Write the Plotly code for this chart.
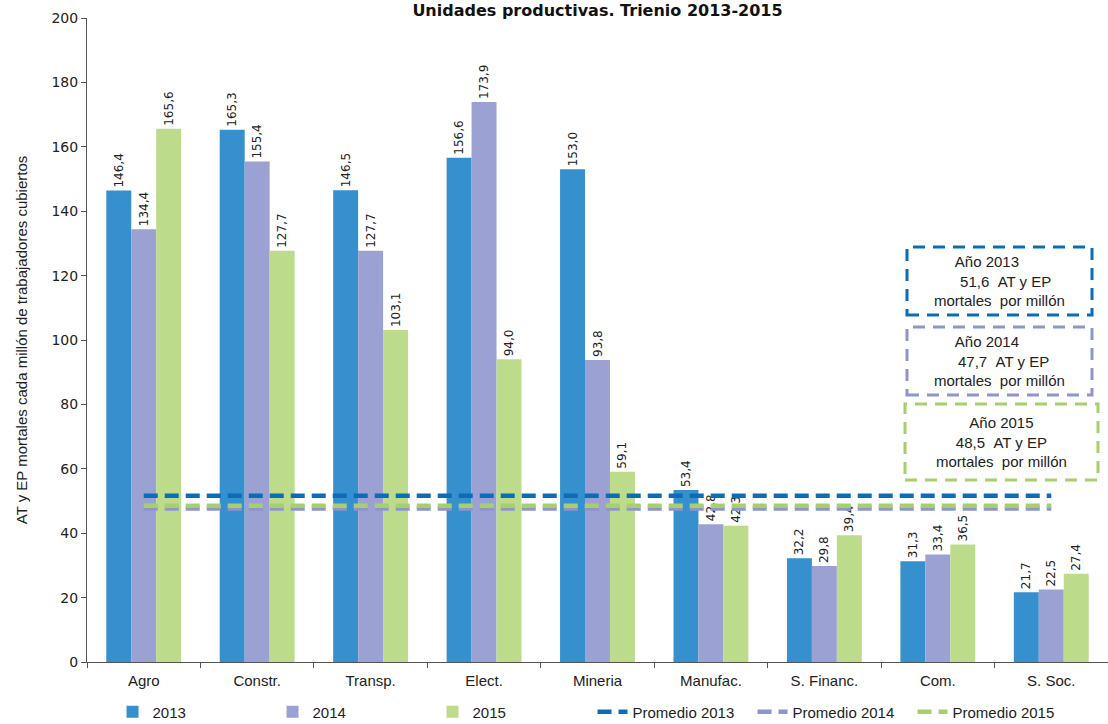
import plotly.graph_objects as go

categories = ["Agro", "Constr.", "Transp.", "Elect.", "Mineria", "Manufac.", "S. Financ.", "Com.", "S. Soc."]
v2013 = [146.4, 165.3, 146.5, 156.6, 153.0, 53.4, 32.2, 31.3, 21.7]
v2014 = [134.4, 155.4, 127.7, 173.9, 93.8, 42.8, 29.8, 33.4, 22.5]
v2015 = [165.6, 127.7, 103.1, 94.0, 59.1, 42.3, 39.4, 36.5, 27.4]
prom2013 = 51.6
prom2014 = 47.7
prom2015 = 48.5

c13, c14, c15 = "#3590CD", "#9BA2D3", "#BCDC8C"
l13, l14, l15 = "#0B6DB7", "#8E95CB", "#A8D06A"

lab_font = dict(family="DejaVu Sans, Verdana", size=12, color="#222222")

fig = go.Figure()
for name, vals, col in [("2013", v2013, c13), ("2014", v2014, c14), ("2015", v2015, c15)]:
    fig.add_trace(go.Bar(
        x=categories, y=vals, name=name, marker=dict(color=col, line=dict(width=0)),
        text=[f"{v:.1f}".replace(".", ",") for v in vals],
        texttemplate="%{text}", textposition="outside", textangle=-90,
        textfont=lab_font, cliponaxis=False, constraintext="none",
    ))

for name, val, col in [("Promedio 2013", prom2013, l13), ("Promedio 2014", prom2014, l14), ("Promedio 2015", prom2015, l15)]:
    fig.add_trace(go.Scatter(
        x=categories, y=[val] * len(categories), name=name, mode="lines",
        line=dict(color=col, width=4.5, dash="14px,7px"),
    ))

W, H = 1108, 724
pl, pr, pt, pb = 87, 0, 18, 62
pw, ph = W - pl - pr, H - pt - pb

fig.update_layout(
    width=W, height=H,
    margin=dict(l=pl, r=pr, t=pt, b=pb, autoexpand=False),
    paper_bgcolor="white", plot_bgcolor="white",
    barmode="group", bargap=0.34, bargroupgap=0,
    separators=",.",
    showlegend=True,
    legend=dict(orientation="h", x=0.025, xanchor="left", y=-0.052, yanchor="top",
                entrywidth=115, entrywidthmode="pixels",
                font=dict(family="Liberation Sans Narrow, Arial Narrow, Arial", size=15, color="#222222"),
                itemwidth=30, tracegroupgap=0),
    title=dict(text="<b>Unidades productivas. Trienio 2013-2015</b>",
               x=0.5, xref="paper", xanchor="center", y=(H - 10) / H, yref="container", yanchor="middle",
               font=dict(family="DejaVu Sans, Verdana", size=16, color="#111111")),
)

fig.update_yaxes(
    range=[0, 200], dtick=20, showgrid=False, zeroline=False,
    showline=True, linecolor="#555555", linewidth=1,
    ticks="outside", ticklen=5, tickcolor="#555555",
    tickfont=dict(family="DejaVu Sans, Verdana", size=14, color="#222222"),
    title=dict(text="AT y EP mortales cada millón de trabajadores cubiertos",
               font=dict(family="Liberation Sans Narrow, Arial Narrow, Arial", size=15, color="#222222"),
               standoff=20),
)
fig.update_xaxes(
    showgrid=False, showline=True, linecolor="#555555", linewidth=1,
    ticks="outside", tickson="boundaries", ticklen=5, tickcolor="#555555",
    ticklabelstandoff=5,
    tickfont=dict(family="Liberation Sans Narrow, Arial Narrow, Arial", size=15, color="#222222"),
)

# Dashed annotation boxes
sp = "&nbsp;"
boxes = [
    (907, 247, 1092, 315, l13, f"Año 2013{sp*6}<br>{sp*3}51,6{sp*2}AT y EP<br>mortales{sp*2}por millón"),
    (907, 327, 1092, 395, l14, f"Año 2014{sp*6}<br>{sp*2}47,7{sp*2}AT y EP<br>mortales{sp*2}por millón"),
    (905, 404, 1098, 480, l15, f"Año 2015<br>48,5{sp*2}AT y EP<br>mortales{sp*2}por millón"),
]
for x0, y0, x1, y1, col, txt in boxes:
    fx0 = (x0 - pl) / pw
    fx1 = (x1 - pl) / pw
    fy0 = (H - pb - y1) / ph
    fy1 = (H - pb - y0) / ph
    fig.add_shape(type="rect", xref="paper", yref="paper", x0=fx0, x1=fx1, y0=fy0, y1=fy1,
                  line=dict(color=col, width=3, dash="12px,8px"), fillcolor="rgba(0,0,0,0)")
    fig.add_annotation(xref="paper", yref="paper", x=(fx0 + fx1) / 2, y=(fy0 + fy1) / 2,
                       xanchor="center", yanchor="middle",
                       text=txt, showarrow=False, align="center",
                       font=dict(family="Liberation Sans, Arial", size=15, color="#222222"))

fig.write_html("out.html", config={"displayModeBar": False},
               post_script="document.body.style.margin='0';document.body.style.padding='0';document.body.style.overflow='hidden';")
